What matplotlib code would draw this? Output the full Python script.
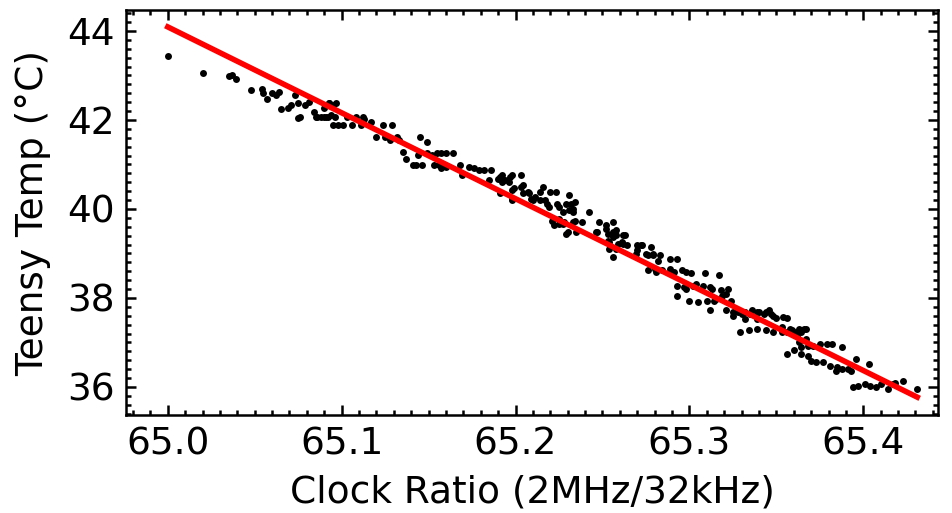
import numpy as np
import matplotlib
matplotlib.use("Agg")
import matplotlib.pyplot as plt
from matplotlib.ticker import MultipleLocator

# clock ratio (2MHz / 32kHz) vs teensy temperature
clock_ratio = [
    65.000, 65.020, 65.035, 65.037, 65.039, 65.048, 65.054, 65.055, 65.057, 65.060,
    65.062, 65.064, 65.065, 65.069, 65.071, 65.073, 65.075, 65.075, 65.079, 65.081,
    65.084, 65.086, 65.090, 65.092, 65.090, 65.093, 65.095, 65.076, 65.085, 65.088,
    65.091, 65.093, 65.095, 65.097, 65.094, 65.096, 65.098, 65.101, 65.103, 65.106,
    65.108, 65.111, 65.112, 65.113, 65.117, 65.120, 65.124, 65.125, 65.129, 65.128,
    65.132, 65.133, 65.135, 65.137, 65.141, 65.143, 65.144, 65.145, 65.146, 65.149,
    65.149, 65.152, 65.155, 65.156, 65.157, 65.160, 65.164, 65.153, 65.157, 65.160,
    65.168, 65.169, 65.173, 65.176, 65.179, 65.186, 65.185, 65.190, 65.192, 65.197,
    65.203, 65.192, 65.196, 65.203, 65.198, 65.191, 65.198, 65.204, 65.208, 65.209,
    65.211, 65.216, 65.214, 65.214, 65.217, 65.220, 65.223, 65.224, 65.219, 65.221,
    65.225, 65.182, 65.191, 65.194, 65.198, 65.199, 65.204, 65.198, 65.207, 65.210,
    65.231, 65.218, 65.225, 65.229, 65.234, 65.227, 65.231, 65.233, 65.242, 65.222,
    65.227, 65.230, 65.234, 65.238, 65.235, 65.248, 65.256, 65.247, 65.252, 65.258,
    65.262, 65.253, 65.256, 65.261, 65.254, 65.256, 65.264, 65.272, 65.270, 65.278,
    65.279, 65.276, 65.232, 65.233, 65.225, 65.228, 65.233, 65.252, 65.229, 65.246,
    65.253, 65.256, 65.258, 65.263, 65.254, 65.259, 65.262, 65.258, 65.270, 65.273,
    65.269, 65.275, 65.279, 65.283, 65.282, 65.289, 65.293, 65.276, 65.280, 65.284,
    65.289, 65.291, 65.296, 65.281, 65.298, 65.301, 65.309, 65.317, 65.293, 65.297,
    65.304, 65.308, 65.313, 65.318, 65.322, 65.293, 65.300, 65.305, 65.310, 65.315,
    65.319, 65.324, 65.312, 65.321, 65.325, 65.330, 65.335, 65.339, 65.344, 65.347,
    65.350, 65.356, 65.329, 65.334, 65.339, 65.344, 65.348, 65.353, 65.359, 65.362,
    65.298, 65.302, 65.312, 65.314, 65.321, 65.325, 65.328, 65.332, 65.336, 65.340,
    65.343, 65.346, 65.348, 65.332, 65.339, 65.356, 65.361, 65.364, 65.367, 65.367,
    65.363, 65.354, 65.353, 65.358, 65.363, 65.366, 65.356, 65.360, 65.364, 65.368,
    65.371, 65.375, 65.379, 65.382, 65.388, 65.364, 65.368, 65.370, 65.373, 65.377,
    65.381, 65.385, 65.384, 65.388, 65.391, 65.393, 65.396, 65.403, 65.394, 65.397,
    65.401, 65.404, 65.407, 65.410, 65.414, 65.417, 65.418, 65.423, 65.431,
]
teensy_temp = [
    43.44, 43.05, 42.99, 43.01, 42.92, 42.67, 42.69, 42.60, 42.48, 42.61,
    42.57, 42.63, 42.24, 42.26, 42.33, 42.56, 42.05, 42.37, 42.33, 42.41,
    42.18, 42.06, 42.06, 42.06, 42.26, 42.39, 41.88, 42.07, 42.07, 42.07,
    42.07, 42.37, 42.33, 42.37, 42.11, 42.07, 41.88, 41.88, 42.07, 41.88,
    42.07, 41.88, 42.07, 42.03, 41.96, 41.62, 41.88, 41.62, 41.88, 41.55,
    41.62, 41.55, 41.28, 41.13, 40.98, 40.98, 41.21, 41.62, 40.98, 41.51,
    41.25, 41.21, 41.25, 40.98, 41.25, 41.25, 41.25, 40.98, 40.91, 40.94,
    40.98, 40.76, 40.94, 40.91, 40.87, 40.87, 40.64, 40.68, 40.76, 40.72,
    40.76, 40.61, 40.61, 40.49, 40.42, 40.35, 40.23, 40.35, 40.35, 40.23,
    40.27, 40.49, 40.38, 40.19, 40.19, 40.38, 40.38, 40.12, 40.04, 39.74,
    39.67, 40.87, 40.72, 40.64, 40.76, 40.46, 40.53, 40.19, 40.38, 40.19,
    40.31, 40.12, 40.04, 40.12, 40.16, 39.93, 39.97, 39.93, 39.93, 39.63,
    39.67, 39.48, 39.74, 39.71, 39.48, 39.71, 39.71, 39.48, 39.56, 39.52,
    39.41, 39.29, 39.37, 39.26, 39.11, 38.92, 39.18, 39.18, 39.07, 39.14,
    38.99, 38.96, 40.12, 40.01, 39.78, 39.71, 39.71, 39.63, 39.44, 39.48,
    39.44, 39.48, 39.41, 39.41, 39.26, 39.22, 39.22, 39.11, 39.18, 39.18,
    38.99, 38.99, 38.96, 38.96, 38.84, 38.88, 38.88, 38.62, 38.66, 38.62,
    38.66, 38.58, 38.62, 38.58, 38.58, 38.56, 38.56, 38.51, 38.28, 38.24,
    38.32, 38.28, 38.21, 38.17, 38.21, 38.05, 37.94, 37.90, 37.94, 37.98,
    38.05, 37.94, 37.72, 37.72, 37.68, 37.64, 37.64, 37.68, 37.68, 37.64,
    37.55, 37.55, 37.23, 37.27, 37.30, 37.27, 37.23, 37.23, 37.27, 37.15,
    38.21, 38.28, 38.24, 37.94, 38.09, 37.60, 37.68, 37.68, 37.72, 37.68,
    37.64, 37.72, 37.60, 37.53, 37.53, 37.23, 37.23, 37.23, 37.30, 37.08,
    37.00, 37.57, 37.34, 37.30, 37.30, 37.30, 36.74, 36.82, 36.89, 36.93,
    36.93, 36.97, 36.97, 36.97, 36.89, 36.74, 36.70, 36.59, 36.55, 36.55,
    36.48, 36.44, 36.37, 36.40, 36.40, 36.37, 36.63, 36.52, 35.99, 36.03,
    36.07, 36.03, 35.99, 36.07, 35.95, 36.07, 36.10, 36.14, 35.95,
]

# linear fit as drawn in the figure (temp = fit_offset + fit_slope*(ratio - 65))
fit_slope = -19.3
fit_offset = 44.09

x = np.array(clock_ratio)
y = np.array(teensy_temp)

xfit = np.array([x.min(), x.max()])
yfit = fit_offset + fit_slope * (xfit - 65.0)

fig = plt.figure(figsize=(9.52, 5.13), dpi=100)
ax = fig.add_axes([0.1324, 0.191, 0.853, 0.7895])

ax.scatter(x, y, s=25, c='k', linewidths=0, zorder=2)
ax.plot(xfit, yfit, color='red', lw=4, zorder=3)

ax.set_xlim(64.976, 65.443)
ax.set_ylim(35.37, 44.47)
ax.xaxis.set_major_locator(MultipleLocator(0.1))
ax.xaxis.set_minor_locator(MultipleLocator(0.01))
ax.yaxis.set_major_locator(MultipleLocator(2))
ax.yaxis.set_minor_locator(MultipleLocator(0.2))

ax.tick_params(which='both', direction='in', top=True, right=True, width=1.8)
ax.tick_params(which='major', length=7, labelsize=27, pad=8)
ax.tick_params(which='minor', length=3.5)
for s in ax.spines.values():
    s.set_linewidth(1.8)

ax.set_xlabel('Clock Ratio (2MHz/32kHz)', fontsize=27, labelpad=9)
ax.set_ylabel('Teensy Temp (°C)', fontsize=27, labelpad=12)

fig.savefig('out.png', dpi=100)
